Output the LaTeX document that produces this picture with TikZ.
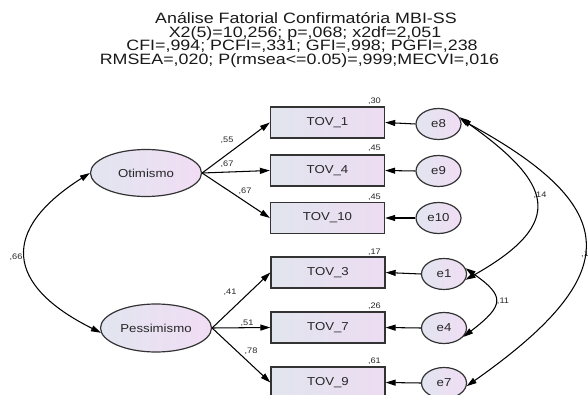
\documentclass[tikz,border=0pt]{standalone}
\usepackage{fontspec}
\setmainfont{Liberation Sans}
\newfontfamily\titlefont[FakeStretch=1.19]{Liberation Sans}
\newfontfamily\lblfont[FakeStretch=1.15]{Liberation Sans}
\usetikzlibrary{shapes.geometric,arrows.meta}
\definecolor{boxL}{HTML}{E1E5EE}
\definecolor{boxR}{HTML}{EDDCF2}
\definecolor{ellL}{HTML}{E2E5F0}
\definecolor{ellR}{HTML}{F1DDF4}
\definecolor{edgec}{HTML}{333333}
\definecolor{txt}{HTML}{262626}
\begin{document}
\begin{tikzpicture}[x=1pt,y=-1pt,
  obs/.style={draw=edgec, line width=1.3pt, rectangle, minimum width=114pt, minimum height=31pt, inner sep=0pt, left color=boxL, right color=boxR, font=\lblfont\fontsize{11.5}{12}\selectfont, text=txt},
  lat/.style={draw=edgec, line width=1.2pt, ellipse, minimum width=111pt, minimum height=47pt, inner sep=0pt, left color=ellL, right color=ellR, font=\lblfont\fontsize{11.5}{12}\selectfont, text=txt},
  err/.style={draw=edgec, line width=1.2pt, ellipse, minimum width=45pt, minimum height=31pt, inner sep=0pt, left color=ellL, right color=ellR, font=\lblfont\fontsize{11.5}{12}\selectfont, text=txt},
  pth/.style={line width=1.05pt, -{Triangle[length=10pt,width=6pt]}},
  cov/.style={line width=1.05pt, {Triangle[length=10pt,width=6pt]}-{Triangle[length=10pt,width=6pt]}},
  num/.style={font=\lblfont\fontsize{8}{9}\selectfont, text=txt, inner sep=0pt},
  ttl/.style={font=\titlefont\fontsize{15}{15}\selectfont, inner sep=0pt, anchor=base, text=black!90}
]
\useasboundingbox (0,0) rectangle (588,395);

% title
\node[ttl] (t1) at (306,24) {Análise Fatorial Confirmatória MBI-SS};
\node[ttl] (t2) at (305,37.5) {X2(5)=10,256; p=,068; x2df=2,051};
\node[ttl] (t3) at (302,51) {CFI=,994; PCFI=,331; GFI=,998; PGFI=,238};
\node[ttl] (t4) at (299.5,64.5) {RMSEA=,020; P(rmsea<=0.05)=,999;MECVI=,016};

% latent
\node[lat] (oti) at (146,173) {Otimismo};
\node[lat, minimum height=48pt] (pes) at (156,328) {Pessimismo};

% observed
\node[obs] (v1) at (327.5,122.5) {TOV\_1};
\node[obs] (v4) at (327.5,170.5) {TOV\_4};
\node[obs] (v10) at (327.5,218) {TOV\_10};
\node[obs] (v3) at (328,272.5) {TOV\_3};
\node[obs] (v7) at (328,327.5) {TOV\_7};
\node[obs] (v9) at (328,382.5) {TOV\_9};

% errors
\node[err] (e8) at (438.5,124) {e8};
\node[err] (e9) at (438.5,171) {e9};
\node[err] (e10) at (438.5,218) {e10};
\node[err] (e1) at (444,274) {e1};
\node[err] (e4) at (444,328) {e4};
\node[err] (e7) at (444,383) {e7};

% loadings
\draw[pth] (oti.east) -- (v1.west);
\draw[pth] (oti.east) -- (v4.west);
\draw[pth] (oti.east) -- (v10.west);
\draw[pth] (pes.east) -- (v3.west);
\draw[pth] (pes.east) -- (v7.west);
\draw[pth] (pes.east) -- (v9.west);

% error arrows
\draw[pth] (e8.west) -- (v1.east);
\draw[pth] (e9.west) -- (v4.east);
\draw[pth] (e10.west) -- (v10.east);
\draw[pth] (e1.west) -- (v3.east);
\draw[pth] (e4.west) -- (v7.east);
\draw[pth] (e7.west) -- (v9.east);

% loading labels
\node[num] (l1) at (227,140) {,55};
\node[num] (l2) at (227,164) {,67};
\node[num] (l3) at (245,191) {,67};
\node[num] (l4) at (230,292) {,41};
\node[num] (l5) at (247,323) {,51};
\node[num] (l6) at (251,351) {,78};

% R2 labels
\node[num, anchor=east] (r1) at (381,101) {,30};
\node[num, anchor=east] (r4) at (381,148) {,45};
\node[num, anchor=east] (r10) at (381,197) {,45};
\node[num, anchor=east] (r3) at (381,252) {,17};
\node[num, anchor=east] (r7) at (381,306) {,26};
\node[num, anchor=east] (r9) at (381,361) {,61};

% covariances
\draw[cov] (oti.west) .. controls (0,230) and (5,285) .. (pes.185);
\node[num] (c66) at (16,257) {,66};

\draw[cov] (e8.18) .. controls (552,183) and (568,222) .. (e1.-15);
\node[num] (c14) at (540,195) {,14};

\draw[cov] (e8.12) .. controls (623,208) and (626,274) .. (e7.-8);
\node[num, anchor=west] (c13) at (581,254) {,1};

\draw[cov] (e1.15) .. controls (505,296) and (505,305) .. (e4.-25);
\node[num] (c11) at (503,301) {,11};
\end{tikzpicture}
\end{document}
